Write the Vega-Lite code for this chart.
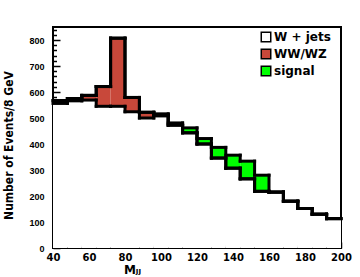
{
  "$schema": "https://vega.github.io/schema/vega-lite/v6.json",
  "width": 288,
  "height": 221,
  "autosize": {"type": "none"},
  "padding": {"left": 53, "top": 27, "right": 19, "bottom": 29},
  "background": "white",
  "config": {
    "view": {"stroke": "black", "strokeWidth": 2},
    "axis": {"domain": false, "grid": false, "tickColor": "black", "labelColor": "black", "titleColor": "black"}
  },
  "data": {
    "values": [
      {"lo": 40, "hi": 48, "comp": "W + jets", "n": 556}, {"lo": 40, "hi": 48, "comp": "WW/WZ", "n": 11}, {"lo": 40, "hi": 48, "comp": "signal", "n": 0},
      {"lo": 48, "hi": 56, "comp": "W + jets", "n": 566}, {"lo": 48, "hi": 56, "comp": "WW/WZ", "n": 9}, {"lo": 48, "hi": 56, "comp": "signal", "n": 0},
      {"lo": 56, "hi": 64, "comp": "W + jets", "n": 569}, {"lo": 56, "hi": 64, "comp": "WW/WZ", "n": 18}, {"lo": 56, "hi": 64, "comp": "signal", "n": 0},
      {"lo": 64, "hi": 72, "comp": "W + jets", "n": 545}, {"lo": 64, "hi": 72, "comp": "WW/WZ", "n": 76}, {"lo": 64, "hi": 72, "comp": "signal", "n": 0},
      {"lo": 72, "hi": 80, "comp": "W + jets", "n": 545}, {"lo": 72, "hi": 80, "comp": "WW/WZ", "n": 262}, {"lo": 72, "hi": 80, "comp": "signal", "n": 0},
      {"lo": 80, "hi": 88, "comp": "W + jets", "n": 524}, {"lo": 80, "hi": 88, "comp": "WW/WZ", "n": 55}, {"lo": 80, "hi": 88, "comp": "signal", "n": 0},
      {"lo": 88, "hi": 96, "comp": "W + jets", "n": 500}, {"lo": 88, "hi": 96, "comp": "WW/WZ", "n": 22}, {"lo": 88, "hi": 96, "comp": "signal", "n": 0},
      {"lo": 96, "hi": 104, "comp": "W + jets", "n": 508}, {"lo": 96, "hi": 104, "comp": "WW/WZ", "n": 4}, {"lo": 96, "hi": 104, "comp": "signal", "n": 4},
      {"lo": 104, "hi": 112, "comp": "W + jets", "n": 472}, {"lo": 104, "hi": 112, "comp": "WW/WZ", "n": 1}, {"lo": 104, "hi": 112, "comp": "signal", "n": 8},
      {"lo": 112, "hi": 120, "comp": "W + jets", "n": 443}, {"lo": 112, "hi": 120, "comp": "WW/WZ", "n": 0}, {"lo": 112, "hi": 120, "comp": "signal", "n": 19},
      {"lo": 120, "hi": 128, "comp": "W + jets", "n": 400}, {"lo": 120, "hi": 128, "comp": "WW/WZ", "n": 0}, {"lo": 120, "hi": 128, "comp": "signal", "n": 21},
      {"lo": 128, "hi": 136, "comp": "W + jets", "n": 346}, {"lo": 128, "hi": 136, "comp": "WW/WZ", "n": 0}, {"lo": 128, "hi": 136, "comp": "signal", "n": 41},
      {"lo": 136, "hi": 144, "comp": "W + jets", "n": 307}, {"lo": 136, "hi": 144, "comp": "WW/WZ", "n": 0}, {"lo": 136, "hi": 144, "comp": "signal", "n": 50},
      {"lo": 144, "hi": 152, "comp": "W + jets", "n": 266}, {"lo": 144, "hi": 152, "comp": "WW/WZ", "n": 0}, {"lo": 144, "hi": 152, "comp": "signal", "n": 68},
      {"lo": 152, "hi": 160, "comp": "W + jets", "n": 218}, {"lo": 152, "hi": 160, "comp": "WW/WZ", "n": 0}, {"lo": 152, "hi": 160, "comp": "signal", "n": 62},
      {"lo": 160, "hi": 168, "comp": "W + jets", "n": 215}, {"lo": 160, "hi": 168, "comp": "WW/WZ", "n": 0}, {"lo": 160, "hi": 168, "comp": "signal", "n": 0},
      {"lo": 168, "hi": 176, "comp": "W + jets", "n": 180}, {"lo": 168, "hi": 176, "comp": "WW/WZ", "n": 0}, {"lo": 168, "hi": 176, "comp": "signal", "n": 0},
      {"lo": 176, "hi": 184, "comp": "W + jets", "n": 152}, {"lo": 176, "hi": 184, "comp": "WW/WZ", "n": 0}, {"lo": 176, "hi": 184, "comp": "signal", "n": 0},
      {"lo": 184, "hi": 192, "comp": "W + jets", "n": 130}, {"lo": 184, "hi": 192, "comp": "WW/WZ", "n": 0}, {"lo": 184, "hi": 192, "comp": "signal", "n": 0},
      {"lo": 192, "hi": 200, "comp": "W + jets", "n": 113}, {"lo": 192, "hi": 200, "comp": "WW/WZ", "n": 0}, {"lo": 192, "hi": 200, "comp": "signal", "n": 0}
    ]
  },
  "transform": [
    {"stack": "n", "groupby": ["lo"], "sort": [{"field": "comp", "order": "ascending"}], "as": ["y0", "y1"]}
  ],
  "layer": [
    {
      "mark": {"type": "rect", "strokeWidth": 0},
      "encoding": {
        "x": {
          "field": "lo", "type": "quantitative",
          "scale": {"domain": [40, 200], "nice": false, "zero": false},
          "axis": {
            "orient": "bottom",
            "values": [40, 60, 80, 100, 120, 140, 160, 180, 200],
            "tickSize": -6, "tickWidth": 1.5,
            "labelFont": "DejaVu Sans", "labelFontWeight": "bold", "labelFontSize": 10,
            "labelPadding": 10, "labelFlush": false,
            "title": "Mⱼⱼ", "titleFont": "DejaVu Sans", "titleFontWeight": "bold", "titleFontSize": 12,
            "titleX": 79, "titleY": 25, "titleAlign": "center", "titleBaseline": "alphabetic"
          }
        },
        "x2": {"field": "hi"},
        "y": {
          "field": "y0", "type": "quantitative",
          "scale": {"domain": [0, 850], "nice": false},
          "axis": {
            "orient": "left",
            "values": [0, 100, 200, 300, 400, 500, 600, 700, 800],
            "tickSize": -7, "tickWidth": 1.5,
            "labelFont": "Liberation Sans", "labelFontWeight": "bold", "labelFontSize": 9,
            "labelPadding": 16, "labelFlush": false,
            "title": "Number of Events/8 GeV", "titleFont": "DejaVu Sans Condensed", "titleFontWeight": "bold", "titleFontSize": 12,
            "titleX": -38, "titleY": 118, "titleAngle": -90, "titleAlign": "center", "titleBaseline": "bottom"
          }
        },
        "y2": {"field": "y1"},
        "color": {
          "field": "comp", "type": "nominal",
          "scale": {"domain": ["W + jets", "WW/WZ", "signal"], "range": ["#ffffff", "#c8483a", "#00ff00"]},
          "legend": {
            "title": null, "orient": "none", "legendX": 207, "legendY": 4, "padding": 0,
            "symbolType": "square", "symbolSize": 90, "symbolStrokeColor": "black", "symbolStrokeWidth": 1.5, "symbolOpacity": 1,
            "labelFont": "DejaVu Sans", "labelFontWeight": "bold", "labelFontSize": 12, "labelColor": "black",
            "labelOffset": 2, "rowPadding": 1
          }
        }
      }
    },
    {
      "mark": {"type": "rule", "color": "black", "strokeWidth": 3, "strokeCap": "square"},
      "encoding": {
        "x": {
          "field": "lo", "type": "quantitative",
          "axis": {"orient": "bottom", "values": [45, 50, 55, 65, 70, 75, 85, 90, 95, 105, 110, 115, 125, 130, 135, 145, 150, 155, 165, 170, 175, 185, 190, 195], "tickSize": -3, "tickWidth": 1.5, "labels": false, "title": null}
        },
        "x2": {"field": "hi"},
        "y": {
          "field": "y1", "type": "quantitative",
          "axis": {"orient": "left", "values": [20, 40, 60, 80, 120, 140, 160, 180, 220, 240, 260, 280, 320, 340, 360, 380, 420, 440, 460, 480, 520, 540, 560, 580, 620, 640, 660, 680, 720, 740, 760, 780, 820, 840], "tickSize": -3.5, "tickWidth": 1.5, "labels": false, "title": null}
        }
      }
    },
    {
      "transform": [
        {"window": [{"op": "lead", "field": "y1", "as": "next"}], "groupby": ["comp"], "sort": [{"field": "lo", "order": "ascending"}]},
        {"filter": "datum.next != null"}
      ],
      "mark": {"type": "rule", "color": "black", "strokeWidth": 3, "strokeCap": "square"},
      "encoding": {
        "x": {"field": "hi", "type": "quantitative", "axis": null},
        "y": {"field": "y1", "type": "quantitative", "axis": null},
        "y2": {"field": "next"}
      }
    }
  ],
  "resolve": {"axis": {"x": "independent", "y": "independent"}}
}
